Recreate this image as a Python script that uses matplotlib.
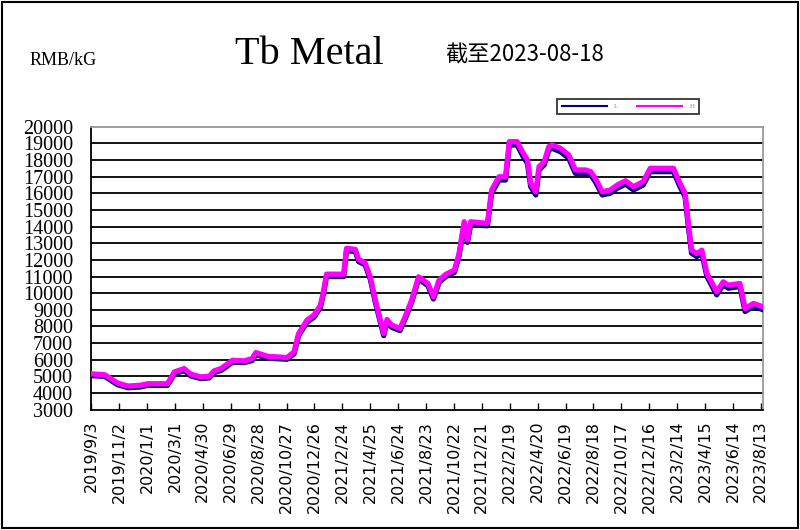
import pandas as pd
import matplotlib
matplotlib.use("Agg")
import matplotlib.pyplot as plt
from matplotlib.patches import Rectangle

plt.rcParams['font.family'] = ['Liberation Serif', 'Noto Sans CJK SC', 'DejaVu Sans']

# Tb metal price, RMB/kG
dates = ["2019-09-03", "2019-10-02", "2019-10-30", "2019-11-21", "2019-12-19", "2020-01-02",
         "2020-02-14", "2020-02-29", "2020-03-21", "2020-04-04", "2020-04-26", "2020-05-14",
         "2020-05-24", "2020-06-08", "2020-07-03", "2020-07-28", "2020-08-14", "2020-08-22",
         "2020-09-16", "2020-10-28", "2020-11-12", "2020-11-22", "2020-12-10", "2020-12-25",
         "2021-01-08", "2021-01-15", "2021-01-21", "2021-02-27", "2021-03-05", "2021-03-24",
         "2021-03-31", "2021-04-14", "2021-04-25", "2021-05-06", "2021-05-24", "2021-05-31",
         "2021-06-10", "2021-06-28", "2021-07-09", "2021-07-23", "2021-08-07", "2021-08-27",
         "2021-09-08", "2021-09-20", "2021-10-05", "2021-10-23", "2021-11-02", "2021-11-13",
         "2021-11-20", "2021-11-27", "2022-01-02", "2022-01-11", "2022-01-27", "2022-02-10",
         "2022-02-18", "2022-03-07", "2022-03-18", "2022-03-29", "2022-04-05", "2022-04-16",
         "2022-04-23", "2022-05-04", "2022-05-14", "2022-05-21", "2022-06-08", "2022-06-26",
         "2022-07-10", "2022-08-01", "2022-08-12", "2022-08-22", "2022-09-06", "2022-09-23",
         "2022-10-08", "2022-10-26", "2022-11-12", "2022-12-03", "2022-12-18", "2023-02-06",
         "2023-02-20", "2023-03-03", "2023-03-10", "2023-03-17", "2023-03-28", "2023-04-08",
         "2023-04-19", "2023-05-10", "2023-05-24", "2023-06-04", "2023-06-29", "2023-07-10",
         "2023-07-28", "2023-08-18"]

high = [5150, 5100, 4600, 4420, 4470, 4560,
        4560, 5270, 5470, 5130, 4970, 5010,
        5330, 5470, 5970, 5930, 6070, 6430,
        6210, 6130, 6470, 7570, 8380, 8680,
        9280, 10180, 11140, 11140, 12690, 12630,
        12020, 11820, 10980, 9580, 7570, 8420,
        8080, 7880, 8580, 9580, 10980, 10580,
        9780, 10780, 11140, 11380, 12380, 14290,
        13190, 14290, 14190, 16190, 16990, 16990,
        19100, 19100, 18500, 18000, 16600, 16090,
        17600, 17890, 18800, 18900, 18700, 18300,
        17400, 17400, 17300, 16900, 16090, 16190,
        16490, 16750, 16390, 16700, 17500, 17500,
        16600, 16000, 14190, 12580, 12380, 12580,
        11180, 10080, 10680, 10480, 10580, 9080,
        9380, 9180]

low = [5050, 5000, 4500, 4320, 4370, 4460,
       4460, 5150, 5350, 5030, 4870, 4910,
       5230, 5350, 5850, 5830, 5950, 6300,
       6100, 6030, 6350, 7450, 8250, 8550,
       9150, 10050, 11000, 11000, 12550, 12500,
       11900, 11700, 10850, 9450, 7450, 8300,
       7950, 7750, 8450, 9450, 10850, 10450,
       9650, 10650, 11000, 11250, 12250, 14100,
       13050, 14100, 14050, 16000, 16800, 16800,
       18900, 18900, 18300, 17800, 16400, 15900,
       17400, 17700, 18600, 18700, 18500, 18100,
       17200, 17200, 17100, 16700, 15900, 16000,
       16300, 16550, 16200, 16500, 17300, 17300,
       16400, 15800, 14000, 12400, 12200, 12400,
       11000, 9900, 10500, 10300, 10400, 8900,
       9200, 9000]

tick_labels = ["2019/9/3", "2019/11/2", "2020/1/1", "2020/3/1", "2020/4/30", "2020/6/29",
               "2020/8/28", "2020/10/27", "2020/12/26", "2021/2/24", "2021/4/25", "2021/6/24",
               "2021/8/23", "2021/10/22", "2021/12/21", "2022/2/19", "2022/4/20", "2022/6/19",
               "2022/8/18", "2022/10/17", "2022/12/16", "2023/2/14", "2023/4/15", "2023/6/14",
               "2023/8/13"]

x = pd.to_datetime(dates)
ticks = pd.to_datetime(tick_labels, format="%Y/%m/%d")

fig = plt.figure(figsize=(8, 5.3), dpi=100)
ax = fig.add_axes([0.114, 0.227, 0.840, 0.534])

ax.plot(x, low, color="#000080", lw=3.8, label="L", solid_joinstyle="round", zorder=3)
ax.plot(x, high, color="#FF00FF", lw=3.8, label="H", solid_joinstyle="round", zorder=4)

ax.set_ylim(3000, 20000)
ax.set_yticks(range(3000, 20001, 1000))
ax.set_xlim(x[0], x[-1])
ax.set_xticks(ticks)
ax.set_xticklabels(tick_labels, rotation=90, family="DejaVu Sans", fontsize=11.5)

# horizontal grid lines every 1000
for v in range(4000, 20000, 1000):
    ax.axhline(v, color="black", lw=1.3, zorder=1)

for lbl in ax.get_yticklabels():
    lbl.set_fontsize(14.5)
ax.tick_params(axis="y", direction="in", length=0, pad=13)
ax.tick_params(axis="x", direction="in", length=5, width=1, pad=8)

ax.spines["left"].set_color("black")
ax.spines["bottom"].set_color("black")
ax.spines["top"].set_color("#999999")
ax.spines["right"].set_color("#999999")
for s in ax.spines.values():
    s.set_linewidth(1.3)

fig.text(0.387, 0.898, "Tb Metal", fontsize=29, ha="center", va="center", family="Liberation Serif")
fig.text(0.556, 0.897, "截至2023-08-18", fontsize=16, ha="left", va="center",
         family=["Noto Sans CJK SC", "DejaVu Sans"])
fig.text(0.037, 0.886, "RMB/kG", fontsize=13, ha="left", va="center", family="Liberation Serif")

leg = ax.legend(loc="center", bbox_to_anchor=(0.785, 0.799), bbox_transform=fig.transFigure,
                ncol=2, fontsize=5, handlelength=6.5, columnspacing=2.8, handletextpad=1.0,
                borderpad=0.6, fancybox=False, edgecolor="black", labelcolor="#888888")
leg.get_frame().set_linewidth(1.3)
for h in leg.get_lines():
    h.set_linewidth(1.5)

fig.patches.append(Rectangle((0.002, 0.003), 0.995, 0.994, transform=fig.transFigure,
                             fill=False, edgecolor="black", lw=1.5))

fig.savefig("out.png", dpi=100)
